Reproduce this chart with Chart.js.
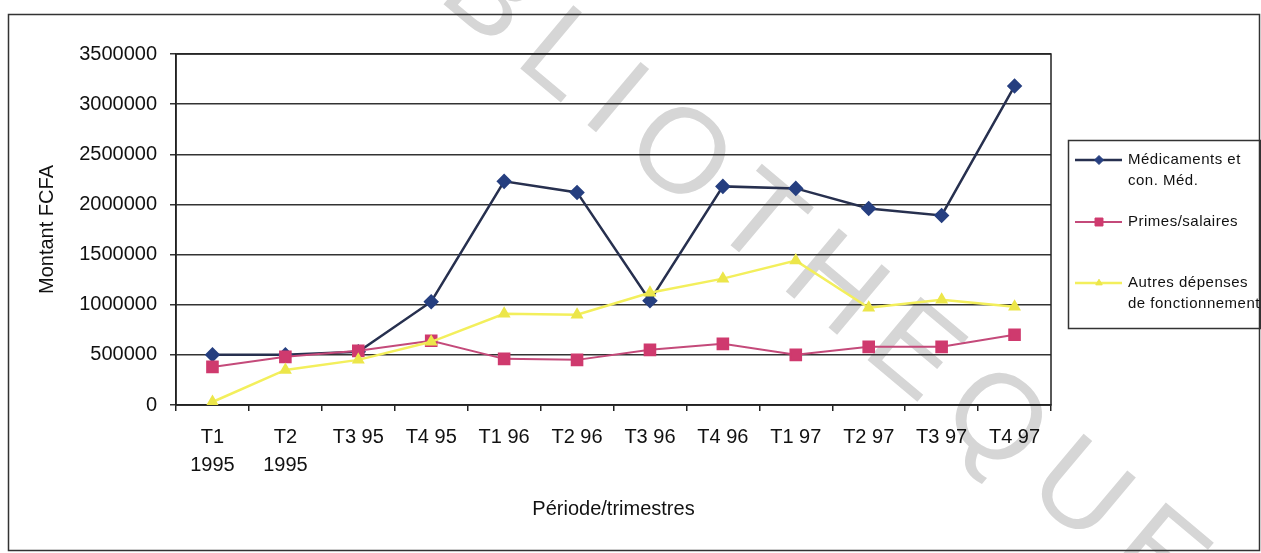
<!DOCTYPE html>
<html>
<head>
<meta charset="utf-8">
<script src="https://cdn.jsdelivr.net/npm/chart.js@4.4.1/dist/chart.umd.min.js"></script>
<style>
  html, body { margin: 0; padding: 0; background: #fff; }
  #wrap { width: 1261px; height: 553px; position: relative; }
</style>
</head>
<body>
<div id="wrap"><canvas id="depenses"></canvas></div>
<script>
// Dépenses trimestrielles 1995-1997 (FCFA)
const periodes = [['T1', '1995'], ['T2', '1995'], 'T3 95', 'T4 95', 'T1 96', 'T2 96', 'T3 96', 'T4 96', 'T1 97', 'T2 97', 'T3 97', 'T4 97'];
const medicaments = [500000, 500000, 530000, 1030000, 2230000, 2120000, 1040000, 2180000, 2160000, 1960000, 1890000, 3180000];
const primesSalaires = [380000, 480000, 540000, 640000, 460000, 450000, 550000, 610000, 500000, 580000, 580000, 700000];
const autresDepenses = [30000, 350000, 450000, 630000, 910000, 900000, 1120000, 1260000, 1440000, 970000, 1050000, 980000];
const yTicks = [0, 500000, 1000000, 1500000, 2000000, 2500000, 3000000, 3500000];
const legendLines = [['Médicaments et', 'con. Méd.'], ['Primes/salaires'], ['Autres dépenses', 'de fonctionnement']];

Chart.defaults.font.family = "'Liberation Sans', Arial, sans-serif";
Chart.defaults.font.size = 20;
Chart.defaults.color = '#111';

// fond blanc, filigrane et cadre extérieur
const cadre = {
  id: 'cadre',
  beforeDraw(chart) {
    const ctx = chart.ctx;
    ctx.save();
    ctx.fillStyle = '#fff';
    ctx.fillRect(0, 0, chart.width, chart.height);

    const espace = 20;
    ctx.font = "120px 'Liberation Sans'";
    ctx.letterSpacing = espace + 'px';
    ctx.fillStyle = '#d6d6d6';
    ctx.textBaseline = 'middle';
    ctx.translate(677, 157);
    ctx.rotate(40 * Math.PI / 180);
    const avant = ctx.measureText('BIBLI').width;
    const largO = ctx.measureText('O').width - espace;
    ctx.fillText('BIBLIOTHEQUE', -(avant + largO / 2), 0);
    ctx.restore();

    ctx.save();
    ctx.strokeStyle = '#333';
    ctx.lineWidth = 1.5;
    ctx.strokeRect(8.5, 14.5, 1251, 536);
    ctx.restore();
  },
  beforeDatasetsDraw(chart) {
    const a = chart.chartArea;
    const ctx = chart.ctx;
    ctx.save();
    ctx.strokeStyle = '#222';
    ctx.lineWidth = 1.5;
    ctx.strokeRect(a.left, a.top, a.right - a.left, a.bottom - a.top);
    ctx.restore();
  }
};

// légende encadrée à droite, libellés sur deux lignes
const legende = {
  id: 'legende',
  afterDraw(chart) {
    const ctx = chart.ctx;
    const rows = [160, 222, 283];
    ctx.save();
    ctx.strokeStyle = '#333';
    ctx.lineWidth = 1.5;
    ctx.strokeRect(1068.5, 140.5, 192, 188);
    chart.data.datasets.forEach((ds, i) => {
      const y = rows[i];
      ctx.strokeStyle = ds.borderColor;
      ctx.lineWidth = ds.borderWidth;
      ctx.beginPath();
      ctx.moveTo(1075, y);
      ctx.lineTo(1122, y);
      ctx.stroke();
      ctx.fillStyle = ds.pointBackgroundColor;
      ctx.strokeStyle = ds.pointBorderColor;
      ctx.lineWidth = 1;
      Chart.helpers.drawPoint(ctx, { pointStyle: ds.pointStyle, radius: ds.pointRadius * 0.75, borderWidth: 1, rotation: 0 }, 1099, y);
      ctx.fillStyle = '#111';
      ctx.font = "15px 'Liberation Sans'";
      ctx.letterSpacing = '0.5px';
      ctx.textBaseline = 'middle';
      legendLines[i].forEach((t, k) => ctx.fillText(t, 1128, y + k * 21));
    });
    ctx.restore();
  }
};

new Chart(document.getElementById('depenses'), {
  type: 'line',
  data: {
    labels: periodes,
    datasets: [
      {
        label: 'Médicaments et con. Méd.',
        data: medicaments,
        borderColor: '#27304f',
        borderWidth: 2.5,
        pointStyle: 'rectRot',
        pointRadius: 6,
        pointBackgroundColor: '#263f80',
        pointBorderColor: '#263f80',
        tension: 0,
        order: 3
      },
      {
        label: 'Primes/salaires',
        data: primesSalaires,
        borderColor: '#c44a7a',
        borderWidth: 2,
        pointStyle: 'rect',
        pointRadius: 7.5,
        pointBackgroundColor: '#cf3a6e',
        pointBorderColor: '#cf3a6e',
        tension: 0,
        order: 2
      },
      {
        label: 'Autres dépenses de fonctionnement',
        data: autresDepenses,
        borderColor: '#f3ef5c',
        borderWidth: 2.5,
        pointStyle: 'triangle',
        pointRadius: 5,
        pointBackgroundColor: '#ece64a',
        pointBorderColor: '#ece64a',
        tension: 0,
        order: 1
      }
    ]
  },
  options: {
    responsive: true,
    maintainAspectRatio: false,
    animation: false,
    layout: { padding: { top: 54, right: 210, bottom: 0, left: 0 } },
    plugins: {
      legend: { display: false },
      tooltip: { enabled: false }
    },
    scales: {
      x: {
        offset: true,
        grid: { offset: true, drawOnChartArea: false, drawTicks: true, tickLength: 6, color: '#222', lineWidth: 1.5 },
        border: { color: '#222', width: 1.5 },
        ticks: { padding: 12, maxRotation: 0, autoSkip: false, font: { size: 20, lineHeight: 1.4 } },
        title: { display: true, text: 'Période/trimestres', font: { size: 20 }, padding: { top: 0, bottom: 32 } },
        afterFit(s) { s.height = 148; }
      },
      y: {
        min: 0,
        max: 3500000,
        afterBuildTicks(s) { s.ticks = yTicks.map(v => ({ value: v })); },
        ticks: { padding: 13, callback: v => String(v), font: { size: 20 } },
        grid: { color: '#333', lineWidth: 1.5, tickLength: 6 },
        border: { color: '#222', width: 1.5 },
        title: { display: true, text: 'Montant FCFA', font: { size: 20 }, padding: { top: 35, bottom: 0 } },
        afterFit(s) { s.width = 176; }
      }
    }
  },
  plugins: [cadre, legende]
});
</script>
</body>
</html>
